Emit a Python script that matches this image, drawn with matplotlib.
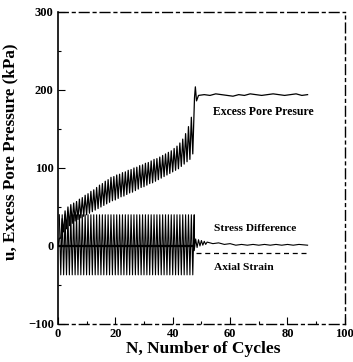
import matplotlib
matplotlib.use("Agg")
import matplotlib.pyplot as plt
from matplotlib.ticker import MultipleLocator

# cycle index for the pre-failure part of the test
cycles = list(range(0, 48))

# excess pore pressure envelope per cycle (kPa)
pore_low = [0, 10, 18, 22, 26, 29, 32, 34, 36, 38,
            40, 42, 44, 46, 48, 50, 52, 54, 56, 58,
            59, 61, 63, 64, 66, 68, 69, 71, 73, 75,
            76, 78, 80, 81, 83, 85, 87, 89, 91, 93,
            95, 97, 99, 102, 105, 108, 111, 118]
pore_high = [10, 35, 45, 50, 53, 55, 57, 60, 62, 65,
             67, 70, 72, 75, 78, 80, 83, 85, 88, 89,
             91, 92, 94, 95, 97, 98, 100, 101, 103, 104,
             106, 107, 109, 111, 112, 114, 116, 118, 120, 122,
             125, 128, 132, 137, 144, 153, 165, 178]

# after failure
post_n = [47.6, 47.9, 48.3, 49, 51, 53, 55, 57, 59, 61, 63, 65, 67, 69,
          71, 73, 75, 77, 79, 81, 83, 85, 87]
post_pore = [190, 204, 186, 193, 194, 193, 195, 194, 193, 192, 194, 193,
             195, 194, 193, 194, 195, 194, 193, 194, 195, 193, 194]

# stress difference band (kPa scale)
stress_high = [40] * 48
stress_low = [-37] * 48
post_sd_n = [47.5, 48, 48.5, 49, 49.5, 50, 50.5, 51, 51.5, 52, 53, 54, 56,
             58, 60, 62, 64, 66, 68, 70, 72, 74, 76, 78, 80, 82, 84, 87]
post_sd = [-6, 9, -2, 8, 0, 7, 1, 6, 2, 5, 4, 3, 4, 2, 3, 1, 2, 1, 2, 1,
           2, 1, 2, 1, 2, 1, 2, 1]

# axial strain after failure
strain_n = [48, 87]
strain_val = [-9, -9]

serif = ["Liberation Serif", "DejaVu Serif"]

fig = plt.figure(figsize=(3.53, 3.62), dpi=100)
ax = fig.add_axes([0.164, 0.105, 0.813, 0.862])

# build the oscillating traces from the envelopes: low at N, high at N+0.5
px, py = [], []
sx, sy = [], []
for i, n in enumerate(cycles):
    px += [n, n + 0.5]
    py += [pore_low[i], pore_high[i]]
    sx += [n, n + 0.5]
    sy += [stress_low[i], stress_high[i]]

ax.plot(px + post_n, py + post_pore, color="black", lw=0.9)
ax.plot(sx[1:] + post_sd_n, sy[1:] + post_sd, color="black", lw=0.8)
ax.plot([0, 47.5], [0, 0], color="black", lw=1.6)
ax.plot(strain_n, strain_val, color="black", lw=0.9, dashes=(4, 3))

ax.text(54, 172, "Excess Pore Presure", fontsize=8.5, fontweight="bold",
        family=serif, va="center")
ax.text(54.5, 23, "Stress Difference", fontsize=8.2, fontweight="bold",
        family=serif, va="center")
ax.text(54.5, -28, "Axial Strain", fontsize=8.2, fontweight="bold",
        family=serif, va="center")

ax.set_xlim(0, 100)
ax.set_ylim(-100, 300)
ax.xaxis.set_major_locator(MultipleLocator(20))
ax.xaxis.set_minor_locator(MultipleLocator(10))
ax.yaxis.set_major_locator(MultipleLocator(100))
ax.yaxis.set_minor_locator(MultipleLocator(50))
ax.tick_params(which="both", direction="in", width=0.8)
ax.tick_params(which="major", length=5, labelsize=9, pad=3)
ax.tick_params(which="minor", length=2.5)
for lab in ax.get_xticklabels() + ax.get_yticklabels():
    lab.set_family(serif)
    lab.set_fontweight("bold")

for side in ["top", "bottom", "right"]:
    ax.spines[side].set_linestyle((0, (7, 3, 2, 3)))
    ax.spines[side].set_linewidth(1.0)
ax.spines["left"].set_linewidth(1.2)

fig.text(0.575, 0.057, "N, Number of Cycles", fontsize=12.5, fontweight="bold",
         family=serif, ha="center", va="top")
fig.text(0.006, 0.58, "u, Excess Pore Pressure (kPa)", fontsize=12.3,
         fontweight="bold", family=serif, rotation=90, ha="left", va="center")

fig.savefig("out.png", dpi=100)
